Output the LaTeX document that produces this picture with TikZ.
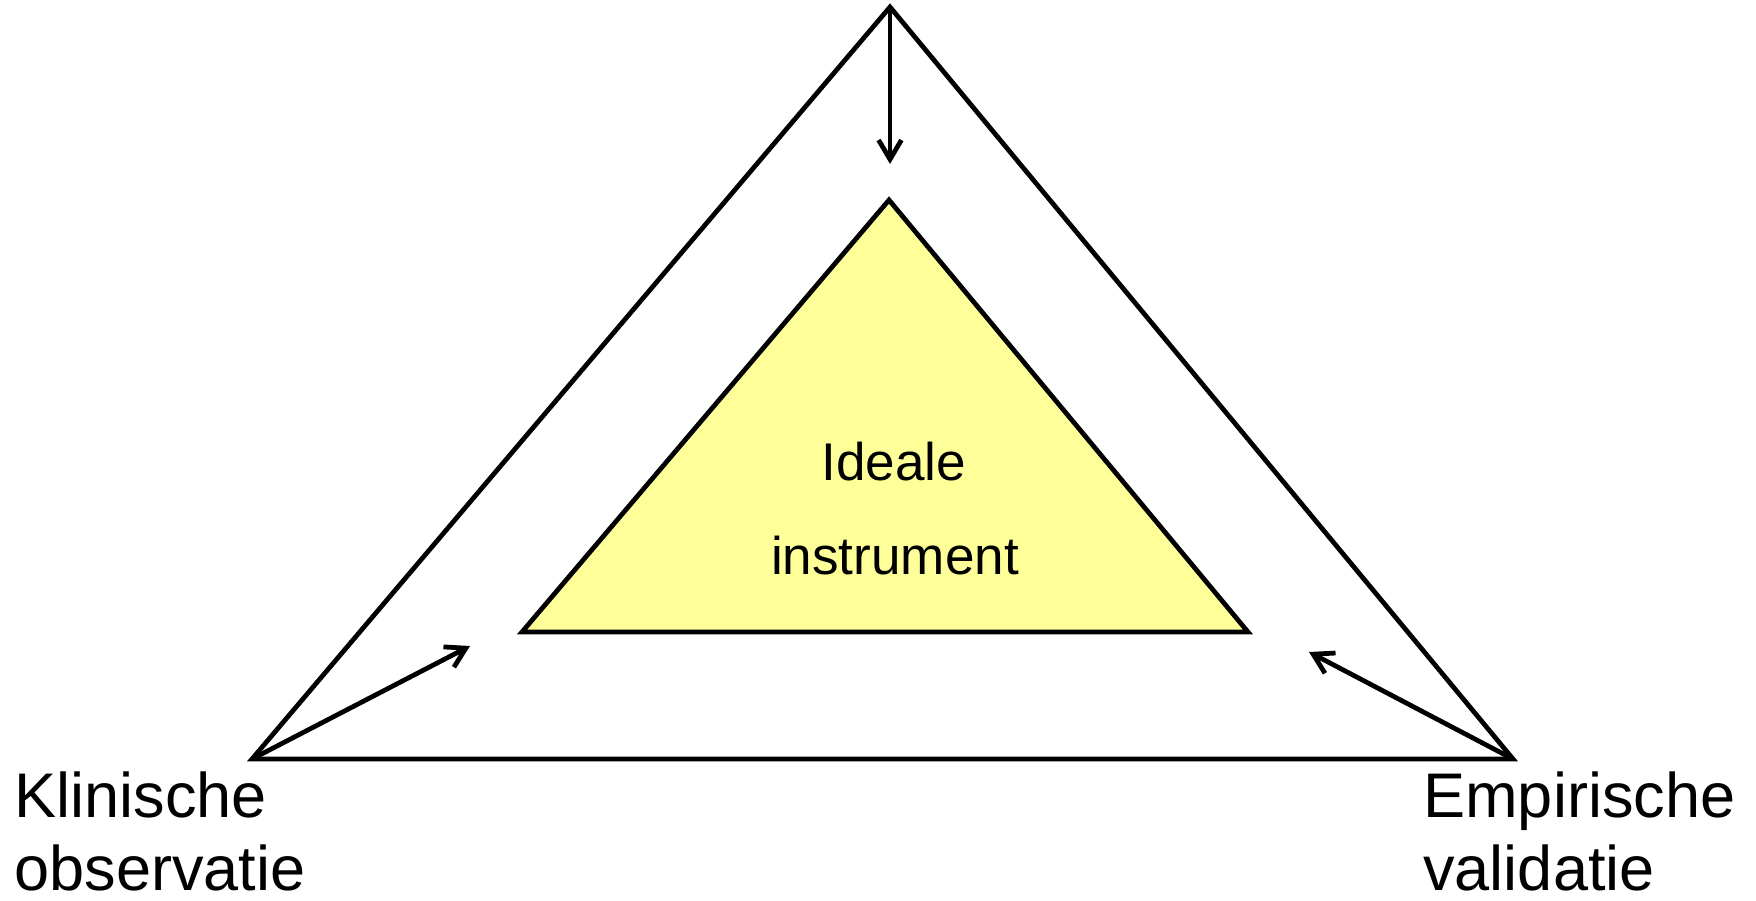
\documentclass[tikz,border=0pt]{standalone}
\usepackage{fontspec}
\setmainfont{Liberation Sans}
\usetikzlibrary{arrows.meta}
\begin{document}
\begin{tikzpicture}[x=0.02cm,y=-0.02cm,
  edge/.style={line width=0.095cm},
  arr/.style={line width=0.095cm,-{Straight Barb[length=11pt,width=13pt,line width=0.095cm]}},
  outerlbl/.style={anchor=base west,inner sep=0pt,font=\fontsize{35.9pt}{42pt}\selectfont},
  innerlbl/.style={anchor=base,inner sep=0pt,font=\fontsize{30.2pt}{36pt}\selectfont}]
\useasboundingbox (0,0) rectangle (1756,900);
% outer triangle corners
\coordinate (OT) at (890,7);
\coordinate (OL) at (252,759);
\coordinate (OR) at (1513,759);
% inner triangle corners
\coordinate (IT) at (889,200);
\coordinate (IL) at (522,632);
\coordinate (IR) at (1248,632);
% arrow tips
\coordinate (TT) at (890,164);
\coordinate (LT) at (470,646);
\coordinate (RT) at (1309,652);
\draw[edge,fill={rgb,255:red,255;green,255;blue,153}] (IT) -- (IR) -- (IL) -- cycle;
\draw[edge] (OT) -- (OR) -- (OL) -- cycle;
\draw[arr] (OT) -- (TT);
\draw[arr] (OL) -- (LT);
\draw[arr] (OR) -- (RT);
\node[innerlbl] (ideale) at (894,480) {Ideale};
\node[innerlbl] (instr) at (895,574) {instrument};
\node[outerlbl] (klin) at (14,817) {Klinische};
\node[outerlbl] (obs) at (14,890) {observatie};
\node[outerlbl] (emp) at (1423,817) {Empirische};
\node[outerlbl] (val) at (1423,890) {validatie};
\end{tikzpicture}
\end{document}
